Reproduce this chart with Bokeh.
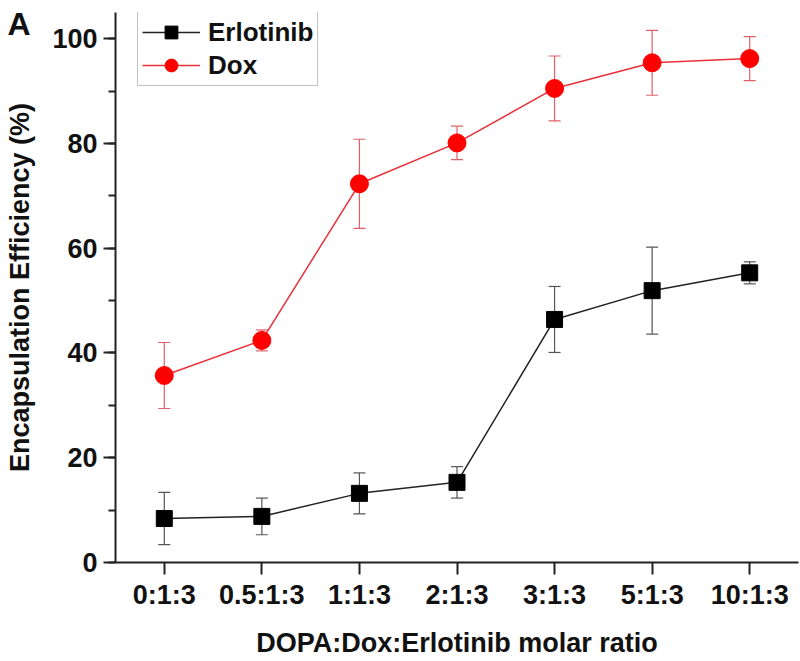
from bokeh.plotting import figure
from bokeh.models import (ColumnDataSource, Whisker, TeeHead, FixedTicker, SingleIntervalTicker,
                          Legend, LegendItem, Title, Range1d)
from bokeh.embed import file_html
from bokeh.resources import INLINE

ratios = ["0:1:3", "0.5:1:3", "1:1:3", "2:1:3", "3:1:3", "5:1:3", "10:1:3"]
erlotinib = [8.4, 8.8, 13.2, 15.3, 46.4, 51.9, 55.3]
erlotinib_err = [5.0, 3.5, 3.9, 3.0, 6.3, 8.3, 2.1]
dox = [35.7, 42.4, 72.3, 80.1, 90.5, 95.4, 96.2]
dox_err = [6.3, 2.0, 8.5, 3.2, 6.2, 6.2, 4.2]

FONT = "Liberation Sans"
xs = list(range(len(ratios)))

p = figure(width=800, height=661, output_backend="svg", toolbar_location=None,
           x_range=Range1d(-0.5, 6.5), y_range=Range1d(0, 105),
           min_border_left=115, min_border_right=2, min_border_top=12, min_border_bottom=99)
p.outline_line_color = None
p.grid.visible = False

src_e = ColumnDataSource(dict(x=xs, y=erlotinib,
                              lo=[v - e for v, e in zip(erlotinib, erlotinib_err)],
                              hi=[v + e for v, e in zip(erlotinib, erlotinib_err)]))
src_d = ColumnDataSource(dict(x=xs, y=dox,
                              lo=[v - e for v, e in zip(dox, dox_err)],
                              hi=[v + e for v, e in zip(dox, dox_err)]))

for src, col in ((src_e, "#555555"), (src_d, "#e0606a")):
    w = Whisker(source=src, base="x", upper="hi", lower="lo", line_color=col, line_width=1.2,
                upper_head=TeeHead(size=12, line_color=col, line_width=1.2),
                lower_head=TeeHead(size=12, line_color=col, line_width=1.2))
    p.add_layout(w)

le = p.line("x", "y", source=src_e, line_color="#222222", line_width=1.5)
se = p.scatter("x", "y", source=src_e, marker="square", size=16, fill_color="black", line_color="black")
ld = p.line("x", "y", source=src_d, line_color="#e8303a", line_width=1.5)
sd = p.scatter("x", "y", source=src_d, marker="circle", size=18, fill_color="#ff0000", line_color="#ff0000")

legend = Legend(items=[LegendItem(label="Erlotinib", renderers=[le, se]),
                       LegendItem(label="Dox", renderers=[ld, sd])],
                location=(22, 476), glyph_width=58, glyph_height=32, label_height=32,
                label_text_font=FONT, label_text_font_style="bold", label_text_font_size="26px",
                label_text_color="#111111",
                label_standoff=8, spacing=1, padding=4, margin=0,
                border_line_color="#888888", border_line_width=1.2, background_fill_alpha=1)
p.add_layout(legend, "center")

# axes
p.xaxis.ticker = FixedTicker(ticks=xs)
p.xaxis.major_label_overrides = {i: r for i, r in enumerate(ratios)}
p.xaxis.minor_tick_line_color = None
p.yaxis.ticker = SingleIntervalTicker(interval=20, num_minor_ticks=2)
for ax in (p.xaxis, p.yaxis):
    ax.axis_line_width = 2
    ax.axis_line_color = "#222222"
    ax.major_tick_line_width = 2
    ax.major_tick_line_color = "#222222"
    ax.major_tick_out = 12
    ax.major_tick_in = 0
    ax.minor_tick_out = 7
    ax.minor_tick_in = 0
    ax.minor_tick_line_width = 2
    ax.major_label_text_font = FONT
    ax.major_label_text_font_style = "bold"
    ax.major_label_text_font_size = "27px"
    ax.major_label_text_color = "#111111"
    ax.axis_label_text_font = FONT
    ax.axis_label_text_font_style = "bold"
    ax.axis_label_text_font_size = "27px"
    ax.axis_label_text_color = "#111111"
p.yaxis.minor_tick_line_color = "#222222"
p.xaxis.major_label_standoff = 5
p.yaxis.major_label_standoff = 6
p.xaxis.axis_label = "DOPA:Dox:Erlotinib molar ratio"
p.yaxis.axis_label = "Encapsulation Efficiency (%)"
p.xaxis.axis_label_standoff = 15
p.yaxis.axis_label_standoff = 14

# panel letter: an empty first line pushes "A" down beside the axis top
panel_label = Title(text="\nA", align="left", offset=-108, standoff=-62, vertical_align="top",
                    text_font=FONT, text_font_style="bold", text_font_size="32px",
                    text_line_height=1.0, text_color="#111111")
p.add_layout(panel_label, "above")

open("out.html", "w").write(file_html(p, INLINE))
